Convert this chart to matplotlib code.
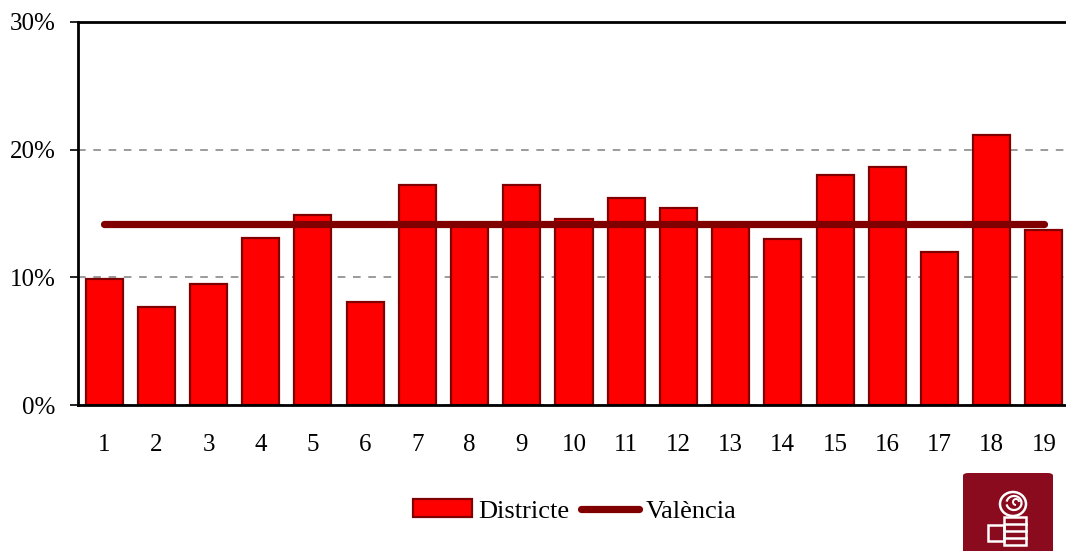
import matplotlib
matplotlib.use("Agg")
import matplotlib.pyplot as plt
from matplotlib.patches import FancyBboxPatch, Rectangle, Ellipse, Arc
from matplotlib.lines import Line2D
from matplotlib.patches import Patch

districts = [str(i) for i in range(1, 20)]
district_values = [9.85, 7.7, 9.45, 13.1, 14.85, 8.1, 17.2, 14.1, 17.2, 14.6,
                   16.25, 15.45, 14.15, 13.0, 18.0, 18.65, 11.95, 21.15, 13.7]
valencia_value = 14.2
y_ticks = [0, 10, 20, 30]
y_tick_labels = ["0%", "10%", "20%", "30%"]

plt.rcParams['font.family'] = ['Liberation Serif', 'DejaVu Serif']

W, H = 1066, 551
fig = plt.figure(figsize=(W/100, H/100), dpi=100)
ax = fig.add_axes([78/W, 146/H, (1070-78)/W, (405-22)/H])

x = list(range(len(districts)))
ax.bar(x, district_values, width=0.71, color='#ff0000', edgecolor='#800000',
       linewidth=1.6, zorder=2)
ax.plot([x[0], x[-1]], [valencia_value, valencia_value], color='#800000',
        linewidth=5.2, solid_capstyle='round', zorder=3)

ax.set_xlim(-0.5, len(districts) - 0.5)
ax.set_ylim(0, 30)
ax.set_yticks(y_ticks)
ax.set_yticklabels(y_tick_labels)
ax.set_xticks(x)
ax.set_xticklabels(districts)
ax.tick_params(axis='y', direction='out', length=6, width=1.2, labelsize=18, pad=10)
ax.tick_params(axis='x', length=0, labelsize=18, pad=21)
for s in ['left', 'top', 'bottom', 'right']:
    ax.spines[s].set_color('black')
    ax.spines[s].set_linewidth(2)
ax.yaxis.grid(True, linestyle=(0, (5, 5)), color='#808080', linewidth=1.1, zorder=0)
ax.set_axisbelow(True)

handles = [Patch(facecolor='#ff0000', edgecolor='#800000', linewidth=1.6),
           Line2D([0], [0], color='#800000', linewidth=5.2, solid_capstyle='round')]
fig.legend(handles, ['Districte', 'València'], loc='center',
           bbox_to_anchor=(575/W, 1 - 511/H), ncol=2, frameon=False,
           fontsize=19, handlelength=2.2, handleheight=0.68, handletextpad=0.25,
           columnspacing=0.45)

# logo
def fx(px):
    return px / W

def fy(py):
    return 1 - py / H

logo = FancyBboxPatch((fx(963), fy(560)), fx(90), (560 - 473)/H,
                      boxstyle='round,pad=0,rounding_size=0.005',
                      transform=fig.transFigure, facecolor='#8a0a1e', edgecolor='none')
fig.patches.append(logo)
white = dict(transform=fig.transFigure, color='white', linewidth=1.8)
# rose
fig.patches.append(Ellipse((fx(1013), fy(504)), 26/W, 24/H, transform=fig.transFigure,
                           fill=False, edgecolor='white', linewidth=1.8))
fig.patches.append(Arc((fx(1014), fy(503)), 15/W, 14/H, theta1=200, theta2=520,
                       transform=fig.transFigure, edgecolor='white', linewidth=1.6))
fig.patches.append(Arc((fx(1016), fy(502)), 6/W, 6/H, theta1=0, theta2=270,
                       transform=fig.transFigure, edgecolor='white', linewidth=1.4))
# stem / fist
fig.patches.append(Rectangle((fx(1004), fy(545)), 22/W, 28/H, transform=fig.transFigure,
                             fill=False, edgecolor='white', linewidth=1.8))
for py in [524, 531, 538]:
    fig.lines.append(Line2D([fx(1006), fx(1026)], [fy(py), fy(py)], **white))
fig.patches.append(Rectangle((fx(988), fy(541)), 16/W, 16/H, transform=fig.transFigure,
                             fill=False, edgecolor='white', linewidth=1.8))

fig.savefig('out.png', dpi=100)
